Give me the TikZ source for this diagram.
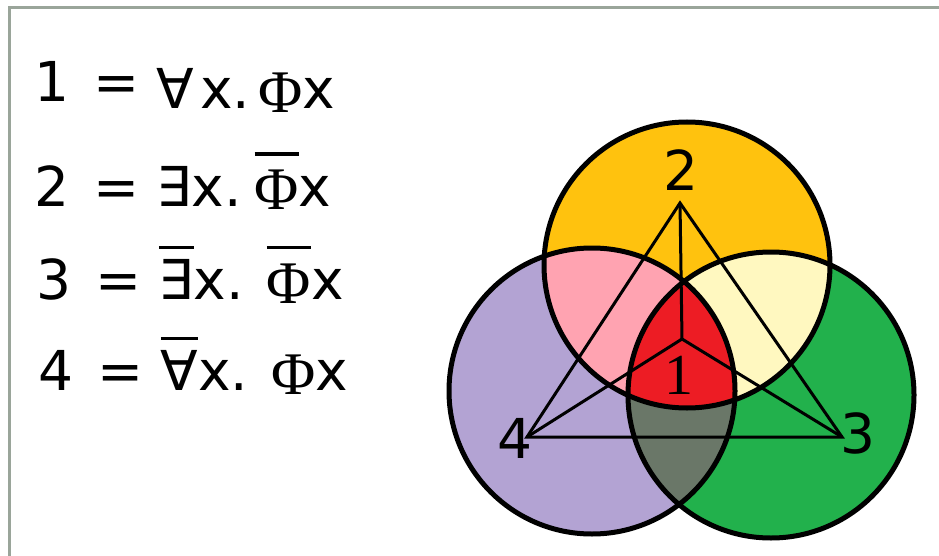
\documentclass[tikz,border=0pt]{standalone}
\usepackage{fontspec}
\setmainfont{DejaVu Sans}
\newfontfamily\greekserif{Liberation Serif}
\usepackage{tikz}
\usetikzlibrary{positioning}
\usepackage{xcolor}
\definecolor{gold}{HTML}{FFC20E}
\definecolor{rose}{HTML}{FFA3B1}
\definecolor{cream}{HTML}{FFF8C0}
\definecolor{core}{HTML}{ED1C24}
\definecolor{lavender}{HTML}{B3A3D3}
\definecolor{grass}{HTML}{22B14C}
\definecolor{slate}{HTML}{6A7768}
\definecolor{framegray}{HTML}{9AA59A}

% serif Phi, a bit lower than the sans letters
\newcommand{\Fi}{{\greekserif\raisebox{-4pt}{\scalebox{1.1}{Φ}}}}
% negation bar
\newcommand{\ovl}[1]{\leavevmode\setbox0\hbox{#1}\rlap{\raisebox{50pt}{\rule{\wd0}{3.5pt}}}\box0}

\begin{document}
\begin{tikzpicture}[x=1pt, y=-1pt,
    every node/.style={inner sep=0pt},
    formula/.style={anchor=base west, font=\fontsize{55}{60}\selectfont},
    vlabel/.style={anchor=base, font=\fontsize{55}{60}\selectfont},
    ring/.style={draw=black, line width=5pt},
    tri/.style={black, line width=3pt},
]
\useasboundingbox (0,0) rectangle (939,556);
\draw[framegray, line width=3pt] (9,556) -- (9,8) -- (939,8);

% left column
\node[formula] (f1) at (34,102) {1\hspace{24pt}= \raisebox{-7pt}{∀\hspace{6pt}x.\hspace{8pt}\Fi x}};
\node[formula] (f2) at (34,206) {2\hspace{24pt}= ∃x.\hspace{13pt}\ovl{\Fi}x};
\node[formula] (f3) at (36,299) {3\hspace{24pt}= \ovl{∃}x. \ovl{\Fi}x};
\node[formula] (f4) at (38,390) {4\hspace{24pt}= \ovl{∀}x. \Fi x};

% circle centres
\coordinate (cy) at (687,265);
\coordinate (cp) at (592,391);
\coordinate (cg) at (771,395);

% regions
\fill[lavender] (cp) circle (143pt);
\fill[grass] (cg) circle (143pt);
\begin{scope}
  \clip (cp) circle (143pt);
  \fill[slate] (cg) circle (143pt);
\end{scope}
\fill[gold] (cy) circle (143pt);
\begin{scope}
  \clip (cy) circle (143pt);
  \fill[rose] (cp) circle (143pt);
  \fill[cream] (cg) circle (143pt);
  \clip (cp) circle (143pt);
  \fill[core] (cg) circle (143pt);
\end{scope}
\draw[ring] (cy) circle (143pt);
\draw[ring] (cp) circle (143pt);
\draw[ring] (cg) circle (143pt);

% triangle
\coordinate (v2) at (680,203);
\coordinate (v4) at (527,437);
\coordinate (v3) at (842,437);
\coordinate (mid) at (682,339);
\draw[tri] (v2) -- (v4) -- (v3) -- cycle;
\draw[tri] (v2) -- (mid);
\draw[tri] (v4) -- (mid);
\draw[tri] (v3) -- (mid);

\node[vlabel] (n2) at (681,190) {2};
\node[vlabel] (n4) at (515,458) {4};
\node[vlabel] (n3) at (858,453) {3};
\node[vlabel, font=\greekserif\fontsize{58}{62}\selectfont] (n1) at (679,394) {1};
\end{tikzpicture}
\end{document}
